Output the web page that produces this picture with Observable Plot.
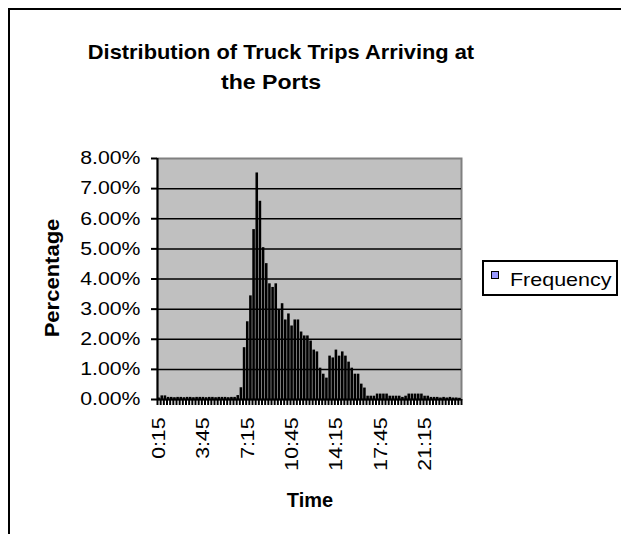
<!DOCTYPE html>
<html><head><meta charset="utf-8">
<script src="https://cdn.jsdelivr.net/npm/d3@7"></script>
<script src="https://cdn.jsdelivr.net/npm/@observablehq/plot@0.6"></script>
<style>
body{margin:0;background:#fff;font-family:"Liberation Sans",Arial,sans-serif;}
#wrap{position:relative;width:621px;height:534px;overflow:hidden;background:#fff;}
#border{position:absolute;left:8px;top:8px;width:700px;height:600px;border:2px solid #000;box-sizing:border-box;}
#chart{position:absolute;left:0;top:0;}
.t{position:absolute;white-space:nowrap;color:#000;line-height:1;}
.tl{position:absolute;white-space:nowrap;font-weight:bold;font-size:21px;line-height:1;}
#title1{left:281px;top:41px;transform:translateX(-50%) scaleX(1.04);}
#title2{left:271px;top:71px;transform:translateX(-50%) scaleX(1.1);}
#ytitle{left:52px;top:278px;font-weight:bold;font-size:20px;transform:translate(-50%,-50%) rotate(-90deg) scaleX(1.1);}
#xtitle{left:310px;top:500px;font-weight:bold;font-size:20px;transform:translate(-50%,-50%);}
#legend{position:absolute;left:482px;top:260px;width:136px;height:36px;border:2px solid #000;box-sizing:border-box;}
#lmark{position:absolute;left:7px;top:9px;width:8px;height:8px;background:#9999ff;border:1px solid #000;box-sizing:border-box;}
#ltext{position:absolute;left:26px;top:8px;font-size:19px;transform-origin:0 0;transform:scaleX(1.13);}
</style></head><body>
<div id="wrap">
<div id="border"></div>
<div id="chart"></div>
<div class="tl" id="title1">Distribution of Truck Trips Arriving at</div>
<div class="tl" id="title2">the Ports</div>
<div class="t" id="ytitle">Percentage</div>
<div class="t" id="xtitle">Time</div>
<div id="legend"><div id="lmark"></div><div class="t" id="ltext">Frequency</div></div>
</div>
<script>
const times = ["0:15","0:30","0:45","1:00","1:15","1:30","1:45","2:00","2:15","2:30","2:45","3:00",
"3:15","3:30","3:45","4:00","4:15","4:30","4:45","5:00","5:15","5:30","5:45","6:00",
"6:15","6:30","6:45","7:00","7:15","7:30","7:45","8:00","8:15","8:30","8:45","9:00",
"9:15","9:30","9:45","10:00","10:15","10:30","10:45","11:00","11:15","11:30","11:45","12:00",
"12:15","12:30","12:45","13:00","13:15","13:30","13:45","14:00","14:15","14:30","14:45","15:00",
"15:15","15:30","15:45","16:00","16:15","16:30","16:45","17:00","17:15","17:30","17:45","18:00",
"18:15","18:30","18:45","19:00","19:15","19:30","19:45","20:00","20:15","20:30","20:45","21:00",
"21:15","21:30","21:45","22:00","22:15","22:30","22:45","23:00","23:15","23:30","23:45","24:00"];
// Frequency, in percent
const frequency = [0.05,0.12,0.12,0.07,0.07,0.06,0.07,0.07,0.06,0.07,0.07,0.06,
0.07,0.07,0.07,0.06,0.07,0.07,0.06,0.07,0.07,0.07,0.06,0.07,
0.07,0.13,0.39,1.72,2.58,3.44,5.64,7.52,6.58,5.04,4.51,3.84,
3.72,3.84,2.98,3.18,2.64,2.84,2.44,2.64,2.64,2.24,2.11,2.11,
1.94,1.64,1.58,1.04,0.84,0.71,1.44,1.38,1.64,1.44,1.58,1.44,
1.24,1.04,0.84,0.84,0.51,0.38,0.11,0.11,0.11,0.18,0.18,0.18,
0.18,0.11,0.11,0.11,0.11,0.07,0.11,0.18,0.18,0.18,0.18,0.18,
0.11,0.11,0.07,0.07,0.07,0.05,0.07,0.05,0.07,0.05,0.05,0.04];
const tickLabels = ["0:15","3:45","7:15","10:45","14:15","17:45","21:15"];
const yTicks = [0,1,2,3,4,5,6,7,8];
const gridLines = [1,2,3,4,5,6,7];

const data = frequency.map((v,i)=>({i, time: times[i], v}));
const boundaries = d3.range(0, times.length + 1);
const labelPos = tickLabels.map(t => times.indexOf(t) + 0.5);

const chart = Plot.plot({
  width: 621, height: 534,
  marginLeft: 157, marginRight: 160, marginTop: 158, marginBottom: 135,
  style: {background: "transparent", fontFamily: "Liberation Sans, Arial, sans-serif", fontSize: "18px", color: "#000"},
  x: {type: "linear", domain: [0, times.length], axis: null},
  y: {domain: [0, 8], axis: null},
  marks: [
    Plot.frame({fill: "#c0c0c0", stroke: "#808080", strokeWidth: 2}),
    Plot.ruleY(gridLines, {stroke: "#000", strokeWidth: 1.5}),
    Plot.rectY(data, {x1: "i", x2: d => d.i + 1, y: "v", insetLeft: 0.3, insetRight: 0.3, fill: "#000"}),
    Plot.ruleY([0], {stroke: "#000", strokeWidth: 2}),
    Plot.ruleX([0], {stroke: "#000", strokeWidth: 2}),
    Plot.axisY(yTicks, {tickSize: 6, tickPadding: 11, strokeWidth: 2, tickFormat: d => d.toFixed(2) + "%", fontSize: 18, label: null}),
    Plot.axisX(boundaries, {tickSize: 6, strokeWidth: 2, tickFormat: () => "", label: null}),
    Plot.axisX(labelPos, {tickSize: 0, tickPadding: 18, tickRotate: -90, fontSize: 18, label: null,
      tickFormat: p => times[Math.floor(p)]})
  ]
});
document.getElementById("chart").appendChild(chart);
// widen tick label glyphs to match the reference rendering
chart.querySelectorAll("g[aria-label='y-axis tick label'] text, g[aria-label='x-axis tick label'] text").forEach(t => {
  const len = t.getComputedTextLength();
  if (len > 0) { t.setAttribute("textLength", len * 1.18); t.setAttribute("lengthAdjust", "spacingAndGlyphs"); }
});
</script>
</body></html>
